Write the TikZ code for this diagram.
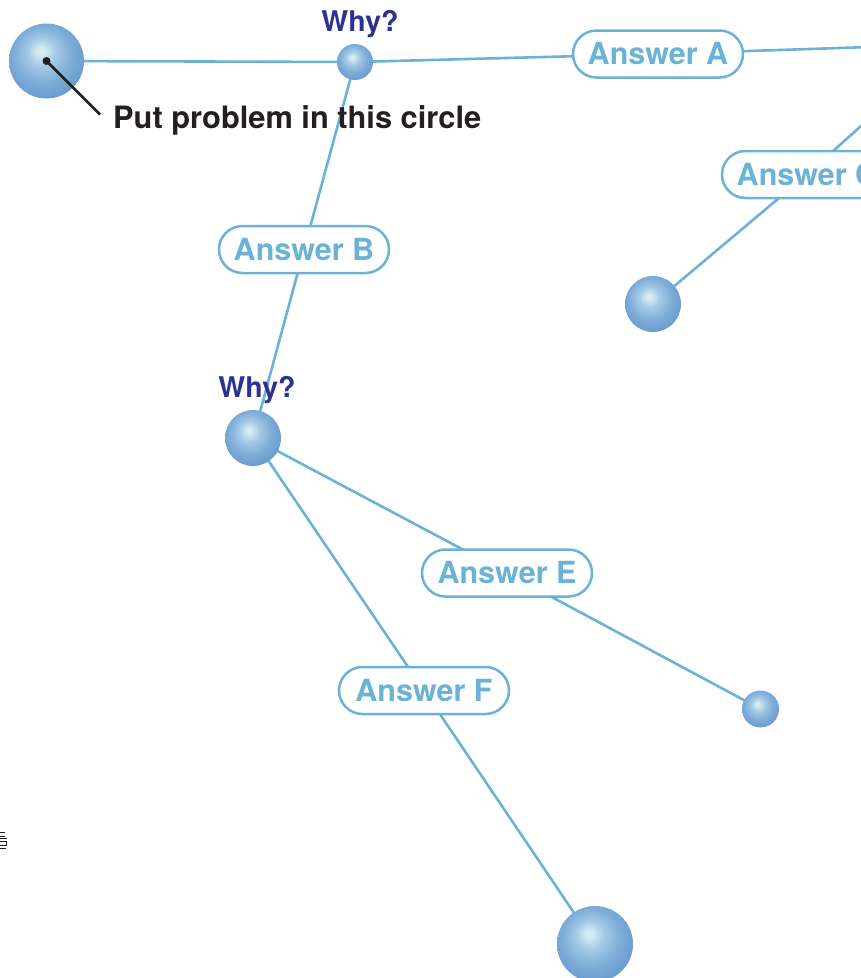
\documentclass[tikz,border=0pt]{standalone}
\usepackage{fontspec}
\setmainfont{TeX Gyre Heros}
\usetikzlibrary{shapes.misc,backgrounds}

\definecolor{linkblue}{RGB}{106,178,214}
\definecolor{whynavy}{RGB}{46,49,146}
\definecolor{inkdark}{RGB}{35,31,32}
\definecolor{sphhi}{RGB}{216,236,242}
\definecolor{sphlight}{RGB}{165,204,230}
\definecolor{sphmid}{RGB}{126,173,216}
\definecolor{sphedge}{RGB}{100,150,203}

% glossy ball: light spot up and to the left, darker rim
% (the path's bounding box maps to the -25bp..25bp square)
\pgfdeclareradialshading{sphere}{\pgfpoint{-4bp}{7bp}}{%
  color(0bp)=(sphhi); color(2bp)=(sphhi); color(9bp)=(sphlight);
  color(19bp)=(sphmid); color(31bp)=(sphedge); color(50bp)=(sphedge)}

\tikzset{
  ball/.style={circle, inner sep=0pt, draw=none, shading=sphere, minimum size=#1},
  answer/.style={rounded rectangle, draw=linkblue, line width=2.5pt, fill=white,
    minimum width=170pt, minimum height=47pt, inner sep=0pt,
    text=linkblue, font=\fontsize{30.5}{36}\selectfont\bfseries},
  why/.style={text=whynavy, font=\fontsize{28.5}{34}\selectfont\bfseries, inner sep=0pt, anchor=base},
  link/.style={draw=linkblue, line width=2.6pt},
}

\begin{document}
\begin{tikzpicture}[x=1pt, y=-1pt]
\useasboundingbox (0,0) rectangle (861,978);

% spheres
\node[ball=75pt] (P)  at (46.5,61)  {};
\node[ball=36pt] (W1) at (355,62)   {};
\node[ball=56pt] (W2) at (253,438)  {};
\node[ball=56pt] (S3) at (653,304)  {};
\node[ball=37pt] (S4) at (760.5,709){};
\node[ball=76pt] (S5) at (595,944)  {};

% answer labels
\node[answer] (A) at (658,54)    {Answer A};
\node[answer] (B) at (304,249.5) {Answer B};
\node[answer] (C) at (807,174.5) {Answer C};
\node[answer] (E) at (507,573)   {Answer E};
\node[answer] (F) at (424,690.5) {Answer F};

% branches leaving the page to the right
\coordinate (Aout) at (900,46);
\coordinate (Cout) at (900,91);

% question labels
\node[why] (Q1) at (360,31)  {Why?};
\node[why] (Q2) at (257,397) {Why?};

% pointer to the problem circle
\coordinate (tip) at (100,114.5);
\node[circle, fill=inkdark, inner sep=0pt, minimum size=8pt] (dot) at (46.5,61) {};
\draw[inkdark, line width=2.6pt] (dot.center) -- (tip);
\node[anchor=base west, inner sep=0pt, text=inkdark,
      font=\fontsize{30.8}{36}\selectfont\bfseries] (note) at (113,128) {Put problem in this circle};

% connectors, drawn behind spheres and labels
\begin{pgfonlayer}{background}
  \draw[link] (P.center) -- (W1.center);
  \draw[link] (W1.center) -- (A.center) -- (Aout);
  \draw[link] (S3.center) -- (C.center) -- (Cout);
  \draw[link] (W1.center) -- (B.center) -- (W2.center);
  \draw[link] (W2.center) -- (E.center) -- (S4.center);
  \draw[link] (W2.center) -- (F.center) -- (S5.center);
\end{pgfonlayer}

% cut-off glyph at the left edge
\draw[inkdark, line width=0.8pt] (0,832) -- (5,832);
\draw[inkdark, line width=0.8pt] (0,836) -- (5,836);
\draw[inkdark, line width=0.8pt] (0,838.5) -- (7,838.5);
\draw[inkdark, line width=0.8pt] (0,841.5) -- (6,841.5) -- (6,845) -- (0,845);
\draw[inkdark, line width=0.8pt] (0,848.5) -- (6,848.5);
\end{tikzpicture}
\end{document}
